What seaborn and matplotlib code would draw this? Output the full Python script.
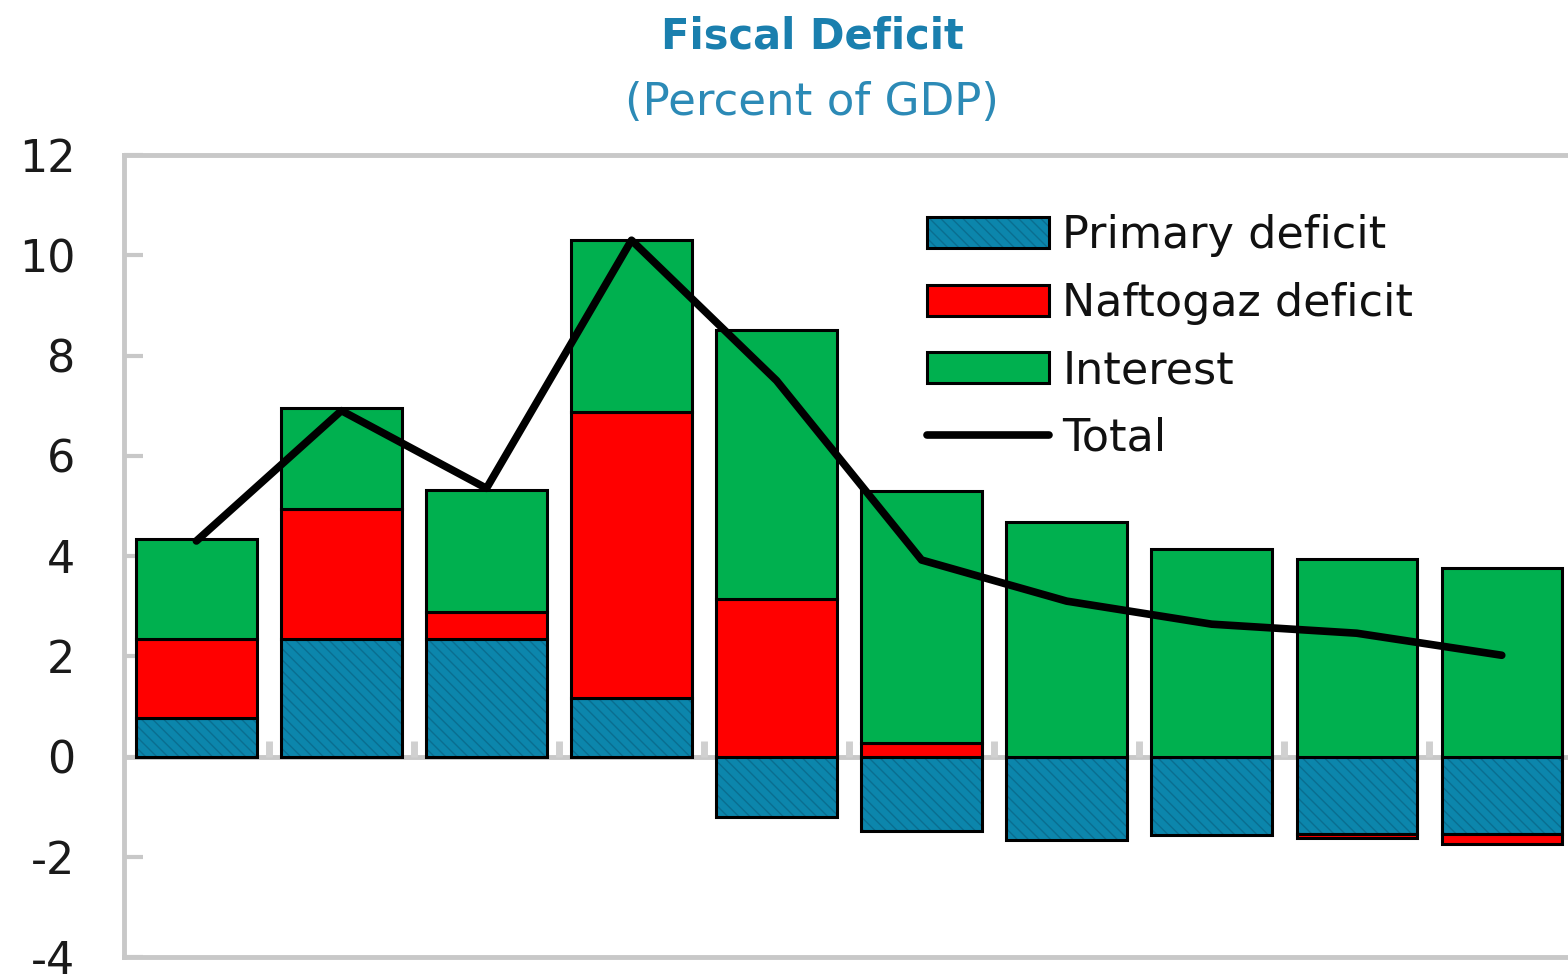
import numpy as np
import pandas as pd
import matplotlib
matplotlib.use("Agg")
import matplotlib.pyplot as plt
import seaborn as sns
from matplotlib.patches import Patch
from matplotlib.lines import Line2D
from matplotlib.colors import to_rgba

# ---- data ----
categories = ["2011", "2012", "2013", "2014", "2015", "2016", "2017", "2018", "2019", "2020"]
primary_deficit = [0.76, 2.34, 2.34, 1.16, -1.20, -1.48, -1.66, -1.56, -1.54, -1.54]
naftogaz_deficit = [1.58, 2.60, 0.54, 5.72, 3.14, 0.26, 0.00, 0.00, -0.08, -0.20]
interest = [2.00, 2.02, 2.44, 3.42, 5.36, 5.04, 4.68, 4.14, 3.94, 3.76]
total = [4.30, 6.90, 5.35, 10.30, 7.50, 3.92, 3.10, 2.64, 2.46, 2.02]
yticks = [-4, -2, 0, 2, 4, 6, 8, 10, 12]

series_names = ["Primary deficit", "Naftogaz deficit", "Interest"]
series_vals = [primary_deficit, naftogaz_deficit, interest]
colors = ["#0c86ac", "#ff0000", "#00b04f"]
hatch_col = "#0a6e90"

sns.set_theme(style="white")
plt.rcParams["font.family"] = ["DejaVu Sans"]
plt.rcParams["hatch.linewidth"] = 1.0


def soft_hatch(patch):
    patch.set_hatch("\\\\\\")
    if hasattr(patch, "set_hatchcolor"):
        try:
            patch.set_hatchcolor(hatch_col)
        except Exception:
            pass
    patch._hatch_color = to_rgba(hatch_col)
    patch.stale = True


fig = plt.figure(figsize=(15.68, 9.74), dpi=100)
ax = fig.add_axes([0.079, 0.01745, 0.925, 0.8234])

# stacked bars (positives stack upward, negatives downward)
pos_base = np.zeros(len(categories))
neg_base = np.zeros(len(categories))
for name, vals, col in zip(series_names, series_vals, colors):
    v = np.array(vals, dtype=float)
    bottom = np.where(v >= 0, pos_base, neg_base)
    n_before = len(ax.patches)
    sns.barplot(x=categories, y=v, bottom=bottom, color=col, saturation=1,
                edgecolor="black", linewidth=2.2, width=0.83, ax=ax, zorder=3)
    if name == "Primary deficit":
        for p in ax.patches[n_before:]:
            soft_hatch(p)
    pos_base = pos_base + np.where(v >= 0, v, 0)
    neg_base = neg_base + np.where(v < 0, v, 0)

# zero line and category separators
ax.axhline(0, color="#c8c8c8", lw=3.5, zorder=2)
ax.vlines(np.arange(len(categories) - 1) + 0.5, 0, 0.3, color="#d0d0d0", lw=5, zorder=2)

# total line
sns.lineplot(x=np.arange(len(categories)), y=total, color="black", lw=5.5,
             sort=False, ax=ax, zorder=5, legend=False)

ax.set_xlim(-0.5, len(categories) - 0.5)
ax.set_ylim(-4, 12)
ax.set_yticks(yticks)
ax.set_yticklabels([str(t) for t in yticks])
ax.set_xticks([])
ax.set_xlabel("")
ax.set_ylabel("")
ax.tick_params(axis="y", direction="in", length=14, width=3, color="#c8c8c8",
               labelsize=32, labelcolor="#1a1a1a", pad=35, left=True)
for side in ["left", "top", "bottom"]:
    ax.spines[side].set_color("#c8c8c8")
    ax.spines[side].set_linewidth(3.5)
ax.spines["right"].set_visible(False)

# titles
fig.text(0.518, 0.963, "Fiscal Deficit", ha="center", va="center",
         fontsize=30, fontweight="bold", color="#1a7fae")
fig.text(0.518, 0.895, "(Percent of GDP)", ha="center", va="center",
         fontsize=32.5, color="#2c8ab6")

# legend
h0 = Patch(facecolor=colors[0], edgecolor="black", linewidth=2.2)
soft_hatch(h0)
handles = [
    h0,
    Patch(facecolor=colors[1], edgecolor="black", linewidth=2.2),
    Patch(facecolor=colors[2], edgecolor="black", linewidth=2.2),
    Line2D([0], [0], color="black", lw=5.5),
]
labels = series_names + ["Total"]
leg = ax.legend(handles, labels, loc="upper left", bbox_to_anchor=(0.591, 0.780),
                bbox_transform=fig.transFigure, frameon=False, fontsize=32,
                handlelength=2.75, handleheight=0.7, handletextpad=0.3,
                labelspacing=0.55, borderpad=0, borderaxespad=0)
for t in leg.get_texts():
    t.set_color("#111111")
for p in leg.get_patches():
    if p.get_hatch():
        soft_hatch(p)

fig.savefig("out.png", dpi=100)
